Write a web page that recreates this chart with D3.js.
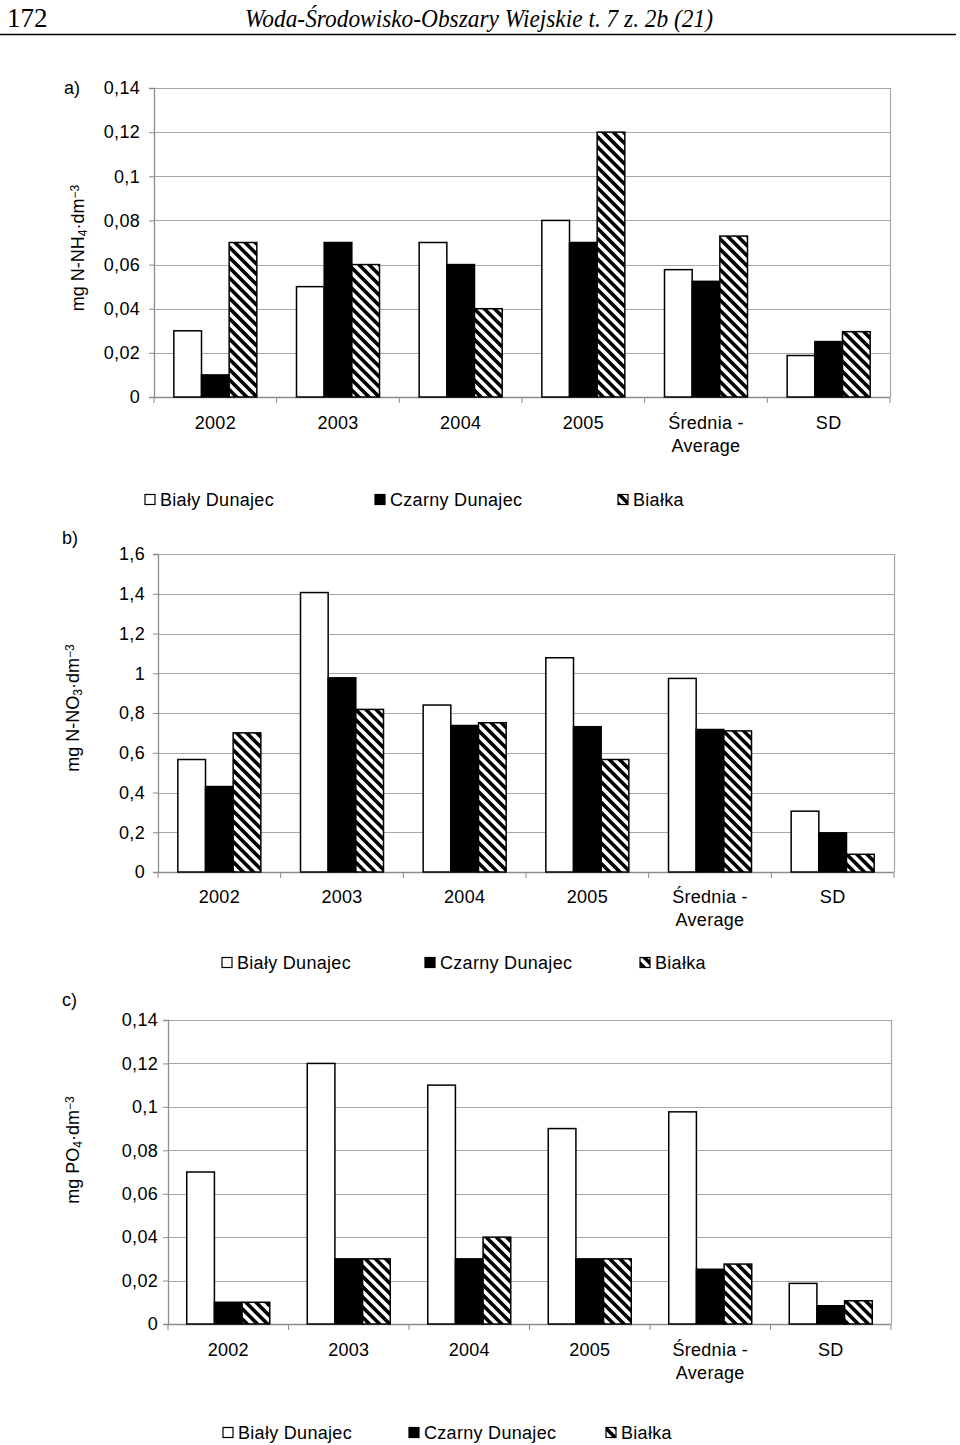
<!DOCTYPE html>
<html><head><meta charset="utf-8">
<script src="https://cdn.jsdelivr.net/npm/d3@7/dist/d3.min.js"></script>
<style>
body{margin:0;background:#fff;}
svg text{font-family:"Liberation Sans",Arial,sans-serif;}
</style></head>
<body>
<svg id="fig" width="960" height="1445"></svg>
<script>
// ---------- DATA ----------
const categories = ["2002", "2003", "2004", "2005", "Średnia -|Average", "SD"];
const seriesNames = ["Biały Dunajec", "Czarny Dunajec", "Białka"];

// a) N-NH4
const nh4Bialy  = [0.03, 0.05, 0.07, 0.08, 0.0577, 0.0188];
const nh4Czarny = [0.01, 0.07, 0.06, 0.07, 0.0524, 0.0251];
const nh4Bialka = [0.07, 0.06, 0.04, 0.12, 0.0729, 0.0296];
const nh4Ticks  = [0, 0.02, 0.04, 0.06, 0.08, 0.1, 0.12, 0.14];

// b) N-NO3
const no3Bialy  = [0.566, 1.406, 0.840, 1.078, 0.974, 0.306];
const no3Czarny = [0.430, 0.977, 0.737, 0.731, 0.717, 0.197];
const no3Bialka = [0.700, 0.818, 0.751, 0.566, 0.710, 0.089];
const no3Ticks  = [0, 0.2, 0.4, 0.6, 0.8, 1, 1.2, 1.4, 1.6];

// c) PO4
const po4Bialy  = [0.07, 0.12, 0.11, 0.09, 0.0977, 0.0187];
const po4Czarny = [0.01, 0.03, 0.03, 0.03, 0.0252, 0.0084];
const po4Bialka = [0.01, 0.03, 0.04, 0.03, 0.0276, 0.0107];
const po4Ticks  = [0, 0.02, 0.04, 0.06, 0.08, 0.1, 0.12, 0.14];

// ---------- DRAW ----------
const svg = d3.select("#fig");
const defs = svg.append("defs");
const P = 7.2;
const pat = defs.append("pattern").attr("id","hatch").attr("patternUnits","userSpaceOnUse")
  .attr("width",P).attr("height",P).attr("patternTransform","rotate(-45)");
pat.append("rect").attr("width",P).attr("height",P).attr("fill","#fff");
pat.append("rect").attr("width",P/2).attr("height",P).attr("fill","#000");

const fills = ["#fff", "#000", "url(#hatch)"];
const fmt = v => String(+v.toFixed(4)).replace(".", ",");

// header
svg.append("text").attr("x",7).attr("y",27).text("172")
  .style("font-family","'Liberation Serif',serif").style("font-size","27px");
svg.append("text").attr("x",245).attr("y",27).attr("textLength",468).attr("lengthAdjust","spacingAndGlyphs")
  .text("Woda-Środowisko-Obszary Wiejskie t. 7 z. 2b (21)")
  .style("font-family","'Liberation Serif',serif").style("font-style","italic").style("font-size","25px");
svg.append("line").attr("x1",0).attr("x2",956).attr("y1",34.5).attr("y2",34.5)
  .attr("stroke","#000").attr("stroke-width",1.6);

function drawChart(cfg){
  const g = svg.append("g");
  const x = d3.scaleBand().domain(categories).range([cfg.left, cfg.right]);
  const y = d3.scaleLinear().domain([0, cfg.ticks[cfg.ticks.length-1]]).range([cfg.bottom, cfg.top]);
  const xs = d3.scaleBand().domain(seriesNames).range([-41.5, 41.5]);

  // gridlines
  g.selectAll(".grid").data(cfg.ticks.slice(1)).join("line")
    .attr("x1",cfg.left).attr("x2",cfg.right)
    .attr("y1",d=>Math.round(y(d))+0.5).attr("y2",d=>Math.round(y(d))+0.5)
    .attr("stroke","#a6a6a6").attr("stroke-width",1.2);
  // right border
  g.append("line").attr("x1",cfg.right+0.5).attr("x2",cfg.right+0.5).attr("y1",cfg.top).attr("y2",cfg.bottom)
    .attr("stroke","#a6a6a6").attr("stroke-width",1.2);

  // y axis
  const ya = d3.axisLeft(y).tickValues(cfg.ticks).tickSize(5).tickPadding(cfg.tickPad).tickFormat(fmt);
  const yg = g.append("g").attr("transform",`translate(${cfg.left},0)`).call(ya);
  yg.select(".domain").attr("stroke","#8c8c8c").attr("stroke-width",1.3);
  yg.selectAll(".tick line").attr("stroke","#8c8c8c");
  yg.selectAll(".tick text").style("font-size","18px").style("letter-spacing","0.3px").attr("fill","#000")
    .style("font-family","'Liberation Sans',Arial,sans-serif");

  // x axis
  const xg = g.append("g");
  xg.append("line").attr("x1",cfg.left).attr("x2",cfg.right).attr("y1",cfg.bottom+0.5).attr("y2",cfg.bottom+0.5)
    .attr("stroke","#8c8c8c").attr("stroke-width",1.3);
  const bounds = categories.map(c=>x(c)).concat([cfg.right]);
  xg.selectAll(".xt").data(bounds).join("line")
    .attr("x1",d=>d).attr("x2",d=>d).attr("y1",cfg.bottom).attr("y2",cfg.bottom+6).attr("stroke","#8c8c8c");
  categories.forEach(c=>{
    const lines = c.split("|");
    const cx = x(c)+x.bandwidth()/2;
    const t = xg.append("text").attr("text-anchor","middle")
      .attr("x", cx).attr("y", cfg.xLabelY)
      .style("font-size","18px").style("letter-spacing","0.3px");
    lines.forEach((l,i)=>t.append("tspan").attr("x", cx).attr("dy", i? 23 : 0).text(l));
  });

  // bars
  cfg.series.forEach((vals, si)=>{
    g.selectAll(".b"+si).data(vals).join("rect")
      .attr("x",(d,i)=>x(categories[i])+x.bandwidth()/2+xs(seriesNames[si]))
      .attr("width",xs.bandwidth())
      .attr("y",d=>y(d)).attr("height",d=>cfg.bottom-y(d))
      .attr("fill",fills[si]).attr("stroke","#000").attr("stroke-width",1.5);
  });

  // panel label
  g.append("text").attr("x",cfg.panelX).attr("y",cfg.panelY).text(cfg.panel).style("font-size","18px");

  // y title
  const yt = g.append("text").attr("transform",`translate(${cfg.titleX},${cfg.titleY}) rotate(-90)`)
    .attr("text-anchor","middle").style("font-size","18px");
  cfg.title.forEach(p=>{
    const ts = yt.append("tspan").text(p.t);
    if(p.s==="sub") ts.attr("baseline-shift","-25%").style("font-size","12px");
    if(p.s==="sup") ts.attr("baseline-shift","45%").style("font-size","12px");
  });

  // legend
  cfg.legend.forEach((lx, si)=>{
    g.append("rect").attr("x",lx).attr("y",cfg.legendY-5.5).attr("width",10).attr("height",10)
      .attr("fill", si===2 ? "url(#hatch)" : fills[si]).attr("stroke","#000").attr("stroke-width",1.2);
    g.append("text").attr("x",lx+15).attr("y",cfg.legendY+6).text(seriesNames[si])
      .style("font-size","18px").style("letter-spacing","0.3px");
  });
}

drawChart({left:154, right:890, top:88, bottom:397, ticks:nh4Ticks, tickPad:9,
  series:[nh4Bialy,nh4Czarny,nh4Bialka], xLabelY:429, panel:"a)", panelX:64, panelY:94,
  titleX:84, titleY:248, title:[{t:"mg N-NH"},{t:"4",s:"sub"},{t:"·dm"},{t:"−3",s:"sup"}],
  legend:[145,375,618], legendY:500});

drawChart({left:158, right:894, top:554, bottom:872, ticks:no3Ticks, tickPad:8,
  series:[no3Bialy,no3Czarny,no3Bialka], xLabelY:903, panel:"b)", panelX:62, panelY:544,
  titleX:79, titleY:708, title:[{t:"mg N-NO"},{t:"3",s:"sub"},{t:"·dm"},{t:"−3",s:"sup"}],
  legend:[222,425,640], legendY:963});

drawChart({left:168, right:891, top:1020, bottom:1324, ticks:po4Ticks, tickPad:5,
  series:[po4Bialy,po4Czarny,po4Bialka], xLabelY:1356, panel:"c)", panelX:62, panelY:1006,
  titleX:79, titleY:1150, title:[{t:"mg PO"},{t:"4",s:"sub"},{t:"·dm"},{t:"−3",s:"sup"}],
  legend:[223,409,606], legendY:1433});
</script>
</body></html>
